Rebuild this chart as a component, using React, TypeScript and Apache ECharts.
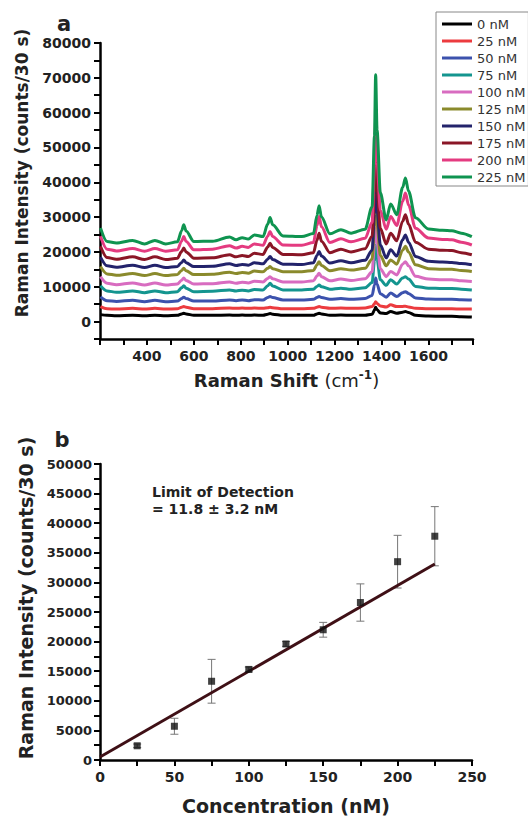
import React, { useEffect, useRef } from 'react';
import * as echarts from 'echarts';

const FONT = 'DejaVu Sans';

// ---- Panel a: Raman spectra ----
const ramanShift = [202, 230, 270, 339, 390, 434, 480, 530, 548, 557, 567, 600, 680, 752, 780, 806, 832, 858, 895, 915, 925, 936, 980, 1060, 1110, 1125, 1134, 1144, 1180, 1227, 1270, 1330, 1360, 1370, 1375, 1381, 1395, 1420, 1439, 1465, 1490, 1502, 1515, 1545, 1600, 1660, 1700, 1740, 1785];

const spectrumNames = ['0 nM', '25 nM', '50 nM', '75 nM', '100 nM', '125 nM', '150 nM', '175 nM', '200 nM', '225 nM'];
const spectrumColors = ['#000000', '#ec3b3f', '#3c52ad', '#14958f', '#d86cc0', '#8a8a2c', '#23236b', '#8a1626', '#e43b80', '#0f9450'];

const s0 = [2000, 1800, 1700, 1800, 1700, 1800, 1700, 1800, 2200, 2400, 2200, 1800, 1800, 1900, 1800, 1900, 1800, 1900, 1800, 2100, 2300, 2100, 1800, 1800, 1800, 2200, 2400, 2200, 1800, 1900, 1800, 1800, 2100, 3300, 4100, 3400, 2500, 2300, 2900, 2400, 2700, 2900, 2600, 1800, 1600, 1500, 1500, 1400, 1300];
const s25 = [4300, 3700, 3600, 3800, 3600, 3800, 3600, 3700, 4100, 4300, 4100, 3700, 3700, 3900, 3800, 3900, 3800, 3900, 3800, 4000, 4100, 4000, 3700, 3700, 3800, 4100, 4300, 4100, 3800, 3900, 3800, 3900, 4300, 5100, 5700, 5200, 4500, 4200, 4800, 4300, 4350, 4400, 4200, 3800, 3700, 3700, 3700, 3600, 3600];
const s50 = [7100, 6000, 5800, 6100, 5700, 6100, 5700, 5900, 6600, 7000, 6600, 5900, 5900, 6200, 6000, 6200, 6000, 6300, 6200, 6900, 7200, 6900, 6200, 6200, 6400, 6900, 7200, 6900, 6400, 6600, 6400, 6600, 7500, 10500, 12500, 10800, 8000, 7000, 8200, 7200, 8300, 8600, 8100, 6800, 6500, 6400, 6400, 6300, 6200];
const s75 = [10300, 8800, 8400, 8800, 8300, 8800, 8300, 8600, 9700, 10300, 9600, 8600, 8700, 9100, 8800, 9000, 8800, 9200, 9100, 10300, 11000, 10200, 9100, 9100, 9300, 10100, 10500, 10000, 9300, 9600, 9300, 9700, 11200, 17500, 22000, 18000, 12000, 10400, 12000, 10800, 12500, 12900, 12200, 10100, 9600, 9500, 9500, 9300, 9100];
const s100 = [12900, 11000, 10600, 11100, 10500, 11100, 10500, 10800, 11900, 12500, 11800, 10800, 10900, 11400, 11000, 11300, 11100, 11600, 11400, 12400, 12900, 12300, 11400, 11400, 11700, 13100, 13900, 12900, 11700, 12200, 11800, 12300, 14300, 22500, 28000, 23000, 15200, 12900, 14400, 13400, 16500, 17200, 16000, 13000, 12200, 12000, 12000, 11700, 11500];
const s125 = [15800, 13700, 13300, 13800, 13200, 13800, 13200, 13500, 14700, 15300, 14600, 13500, 13600, 14200, 13800, 14100, 13900, 14500, 14300, 15300, 15800, 15200, 14300, 14300, 14700, 16300, 17200, 16100, 14600, 15200, 14800, 15300, 18000, 27500, 35000, 28000, 19000, 16000, 17700, 16500, 20500, 21600, 20000, 16300, 15200, 15000, 15000, 14700, 14400];
const s150 = [18500, 16000, 15600, 16200, 15500, 16200, 15500, 15800, 17000, 17700, 16900, 15800, 15900, 16600, 16100, 16400, 16200, 16900, 16600, 17900, 18700, 17800, 16500, 16400, 16900, 19000, 20100, 18800, 16800, 17500, 16900, 17600, 20500, 31000, 39500, 32000, 22000, 18300, 20600, 18800, 23500, 24900, 22800, 18700, 17300, 17100, 17000, 16700, 16300];
const s175 = [21600, 18400, 17900, 18600, 17800, 18600, 17800, 18200, 20100, 21100, 20000, 18200, 18300, 19200, 18600, 19000, 18700, 19600, 19300, 21400, 22500, 21300, 19300, 19200, 19800, 23400, 25400, 23100, 19800, 20800, 20000, 20900, 24500, 37000, 47000, 38000, 26800, 22300, 25400, 23200, 28800, 30700, 28000, 22800, 20800, 20500, 20400, 19800, 19200];
const s200 = [24500, 20800, 20300, 21000, 20200, 21000, 20200, 20600, 23100, 24400, 23000, 20600, 20800, 21800, 21100, 21600, 21300, 22300, 21900, 24500, 25900, 24400, 22000, 21900, 22700, 27600, 30200, 27200, 22700, 23800, 22900, 23900, 28500, 45000, 58000, 46000, 32000, 26500, 30200, 27600, 34500, 36900, 33500, 26800, 24000, 23600, 23500, 22800, 22000];
const s225 = [26900, 23000, 22600, 23300, 22300, 23300, 22300, 22900, 26100, 27800, 26000, 23000, 23100, 24300, 23500, 24100, 23700, 24900, 24400, 28000, 29900, 27800, 24600, 24400, 25300, 30500, 33300, 30000, 25200, 26400, 25400, 26500, 33000, 53300, 70900, 55000, 37000, 29200, 33800, 30700, 38500, 41200, 37500, 29800, 26600, 26200, 26100, 25400, 24400];
const spectra = [s0, s25, s50, s75, s100, s125, s150, s175, s200, s225];

const shiftTickLabels = [400, 600, 800, 1000, 1200, 1400, 1600];
const intensityTickLabelsA = [0, 10000, 20000, 30000, 40000, 50000, 60000, 70000, 80000];

// ---- Panel b: calibration ----
const concentrations = [25, 50, 75, 100, 125, 150, 175, 200, 225];
const meanIntensity = [2400, 5700, 13300, 15300, 19600, 22000, 26600, 33500, 37800];
const errorIntensity = [300, 1350, 3700, 400, 400, 1250, 3150, 4450, 5000];
const fitConcentration = [0, 225];
const fitIntensity = [500, 33100];

const axisLabelStyle = (size: number) => ({
  fontFamily: FONT,
  fontWeight: 'bold' as const,
  fontSize: size,
  color: '#222',
});

const axisLineStyle = { show: true, onZero: false, lineStyle: { color: '#000', width: 2.5 } };
const tickStyle = { show: true, inside: false, length: 6, lineStyle: { color: '#000', width: 2 } };
const minorTickStyle = { show: true, splitNumber: 2, length: 6, lineStyle: { color: '#000', width: 2 } };

function buildOption() {
  const spectrumSeries = spectra.map((vals, i) => ({
    name: spectrumNames[i],
    type: 'line',
    xAxisIndex: 0,
    yAxisIndex: 0,
    data: ramanShift.map((x, j) => [x, vals[j]]),
    showSymbol: false,
    symbol: 'none',
    smooth: 0.3,
    smoothMonotone: 'x',
    color: spectrumColors[i],
    lineStyle: { color: spectrumColors[i], width: 3 },
    z: 2 + i,
  }));

  return {
    animation: false,
    backgroundColor: '#fff',
    grid: [
      { left: 100, top: 43, width: 373, height: 296 },
      { left: 100, top: 464, width: 372, height: 296 },
    ],
    legend: {
      orient: 'vertical',
      left: 436,
      top: 12,
      padding: [5, 3, 2, 6],
      itemWidth: 30,
      itemHeight: 3,
      itemGap: 3,
      icon: 'rect',
      backgroundColor: '#fff',
      borderColor: '#888',
      borderWidth: 1,
      textStyle: { fontFamily: FONT, fontSize: 13, color: '#333', lineHeight: 14 },
      data: spectrumNames,
    },
    xAxis: [
      {
        type: 'value',
        gridIndex: 0,
        min: 200,
        max: 1790,
        interval: 200,
        axisLine: axisLineStyle,
        axisTick: tickStyle,
        minorTick: minorTickStyle,
        splitLine: { show: false },
        minorSplitLine: { show: false },
        axisLabel: {
          ...axisLabelStyle(14),
          margin: 10,
          showMinLabel: false,
          showMaxLabel: false,
          formatter: (v: number) => (shiftTickLabels.includes(v) ? String(v) : ''),
        },
        name: '{b|Raman Shift }{r|(cm}{s|-1}{r|)}',
        nameLocation: 'middle',
        nameGap: 30,
        nameTextStyle: {
          rich: {
            b: { fontFamily: FONT, fontWeight: 'bold', fontSize: 18, color: '#222' },
            r: { fontFamily: FONT, fontWeight: 'normal', fontSize: 18, color: '#222' },
            s: { fontFamily: FONT, fontWeight: 'bold', fontSize: 12, color: '#222', verticalAlign: 'top', padding: [0, 0, 10, 0] },
          },
        },
      },
      {
        type: 'value',
        gridIndex: 1,
        min: 0,
        max: 250,
        interval: 50,
        axisLine: axisLineStyle,
        axisTick: tickStyle,
        minorTick: minorTickStyle,
        splitLine: { show: false },
        minorSplitLine: { show: false },
        axisLabel: { ...axisLabelStyle(14), margin: 10, formatter: (v: number) => String(v) },
        name: 'Concentration (nM)',
        nameLocation: 'middle',
        nameGap: 36,
        nameTextStyle: { fontFamily: FONT, fontWeight: 'bold', fontSize: 19, color: '#222' },
      },
    ],
    yAxis: [
      {
        type: 'value',
        gridIndex: 0,
        min: -5000,
        max: 80000,
        interval: 5000,
        axisLine: axisLineStyle,
        axisTick: tickStyle,
        splitLine: { show: false },
        axisLabel: {
          ...axisLabelStyle(14),
          margin: 9,
          formatter: (v: number) => (intensityTickLabelsA.includes(v) ? String(v) : ''),
        },
      },
      {
        type: 'value',
        gridIndex: 1,
        min: 0,
        max: 50000,
        interval: 5000,
        axisLine: axisLineStyle,
        axisTick: tickStyle,
        minorTick: minorTickStyle,
        splitLine: { show: false },
        minorSplitLine: { show: false },
        axisLabel: { ...axisLabelStyle(13), margin: 8, formatter: (v: number) => String(v) },
      },
    ],
    graphic: [
      { type: 'text', x: 64, y: 24, style: { text: 'a', font: `bold 21px "${FONT}"`, fill: '#222', textAlign: 'center', textVerticalAlign: 'middle' } },
      { type: 'text', x: 62, y: 440, style: { text: 'b', font: `bold 21px "${FONT}"`, fill: '#222', textAlign: 'center', textVerticalAlign: 'middle' } },
      { type: 'text', x: 22, y: 173, rotation: Math.PI / 2, style: { text: 'Raman Intensity (counts/30 s)', font: `bold 17px "${FONT}"`, fill: '#222', textAlign: 'center', textVerticalAlign: 'middle' } },
      { type: 'text', x: 26, y: 598, rotation: Math.PI / 2, style: { text: 'Raman Intensity (counts/30 s)', font: `bold 19px "${FONT}"`, fill: '#222', textAlign: 'center', textVerticalAlign: 'middle' } },
      { type: 'text', x: 152, y: 492, style: { text: 'Limit of Detection', font: `bold 14px "${FONT}"`, fill: '#222', textAlign: 'left', textVerticalAlign: 'middle' } },
      { type: 'text', x: 152, y: 509, style: { text: '= 11.8 ± 3.2 nM', font: `bold 14px "${FONT}"`, fill: '#222', textAlign: 'left', textVerticalAlign: 'middle' } },
    ],
    series: [
      ...spectrumSeries,
      {
        name: 'error',
        type: 'custom',
        xAxisIndex: 1,
        yAxisIndex: 1,
        z: 2,
        data: concentrations.map((c, i) => [c, meanIntensity[i], errorIntensity[i]]),
        renderItem: (params: any, api: any) => {
          const x = api.value(0);
          const y = api.value(1);
          const e = api.value(2);
          const top = api.coord([x, y + e]);
          const bot = api.coord([x, y - e]);
          const half = 4;
          const style = { stroke: '#777', lineWidth: 1 };
          return {
            type: 'group',
            children: [
              { type: 'line', shape: { x1: top[0], y1: top[1], x2: bot[0], y2: bot[1] }, style },
              { type: 'line', shape: { x1: top[0] - half, y1: top[1], x2: top[0] + half, y2: top[1] }, style },
              { type: 'line', shape: { x1: bot[0] - half, y1: bot[1], x2: bot[0] + half, y2: bot[1] }, style },
            ],
          };
        },
      },
      {
        name: 'fit',
        type: 'line',
        xAxisIndex: 1,
        yAxisIndex: 1,
        z: 3,
        data: fitConcentration.map((c, i) => [c, fitIntensity[i]]),
        showSymbol: false,
        symbol: 'none',
        lineStyle: { color: '#3f1016', width: 3 },
      },
      {
        name: 'mean',
        type: 'scatter',
        xAxisIndex: 1,
        yAxisIndex: 1,
        z: 4,
        data: concentrations.map((c, i) => [c, meanIntensity[i]]),
        symbol: 'rect',
        symbolSize: 7,
        itemStyle: { color: '#111' },
      },
    ],
  };
}

export default function App() {
  const ref = useRef<HTMLDivElement>(null);
  useEffect(() => {
    if (!ref.current) return;
    const chart = echarts.init(ref.current, null, { renderer: 'svg' });
    chart.setOption(buildOption() as any);
    return () => chart.dispose();
  }, []);
  return (
    <div
      ref={ref}
      style={{ position: 'absolute', left: 0, top: 0, width: 528, height: 821, background: '#fff' }}
    />
  );
}
